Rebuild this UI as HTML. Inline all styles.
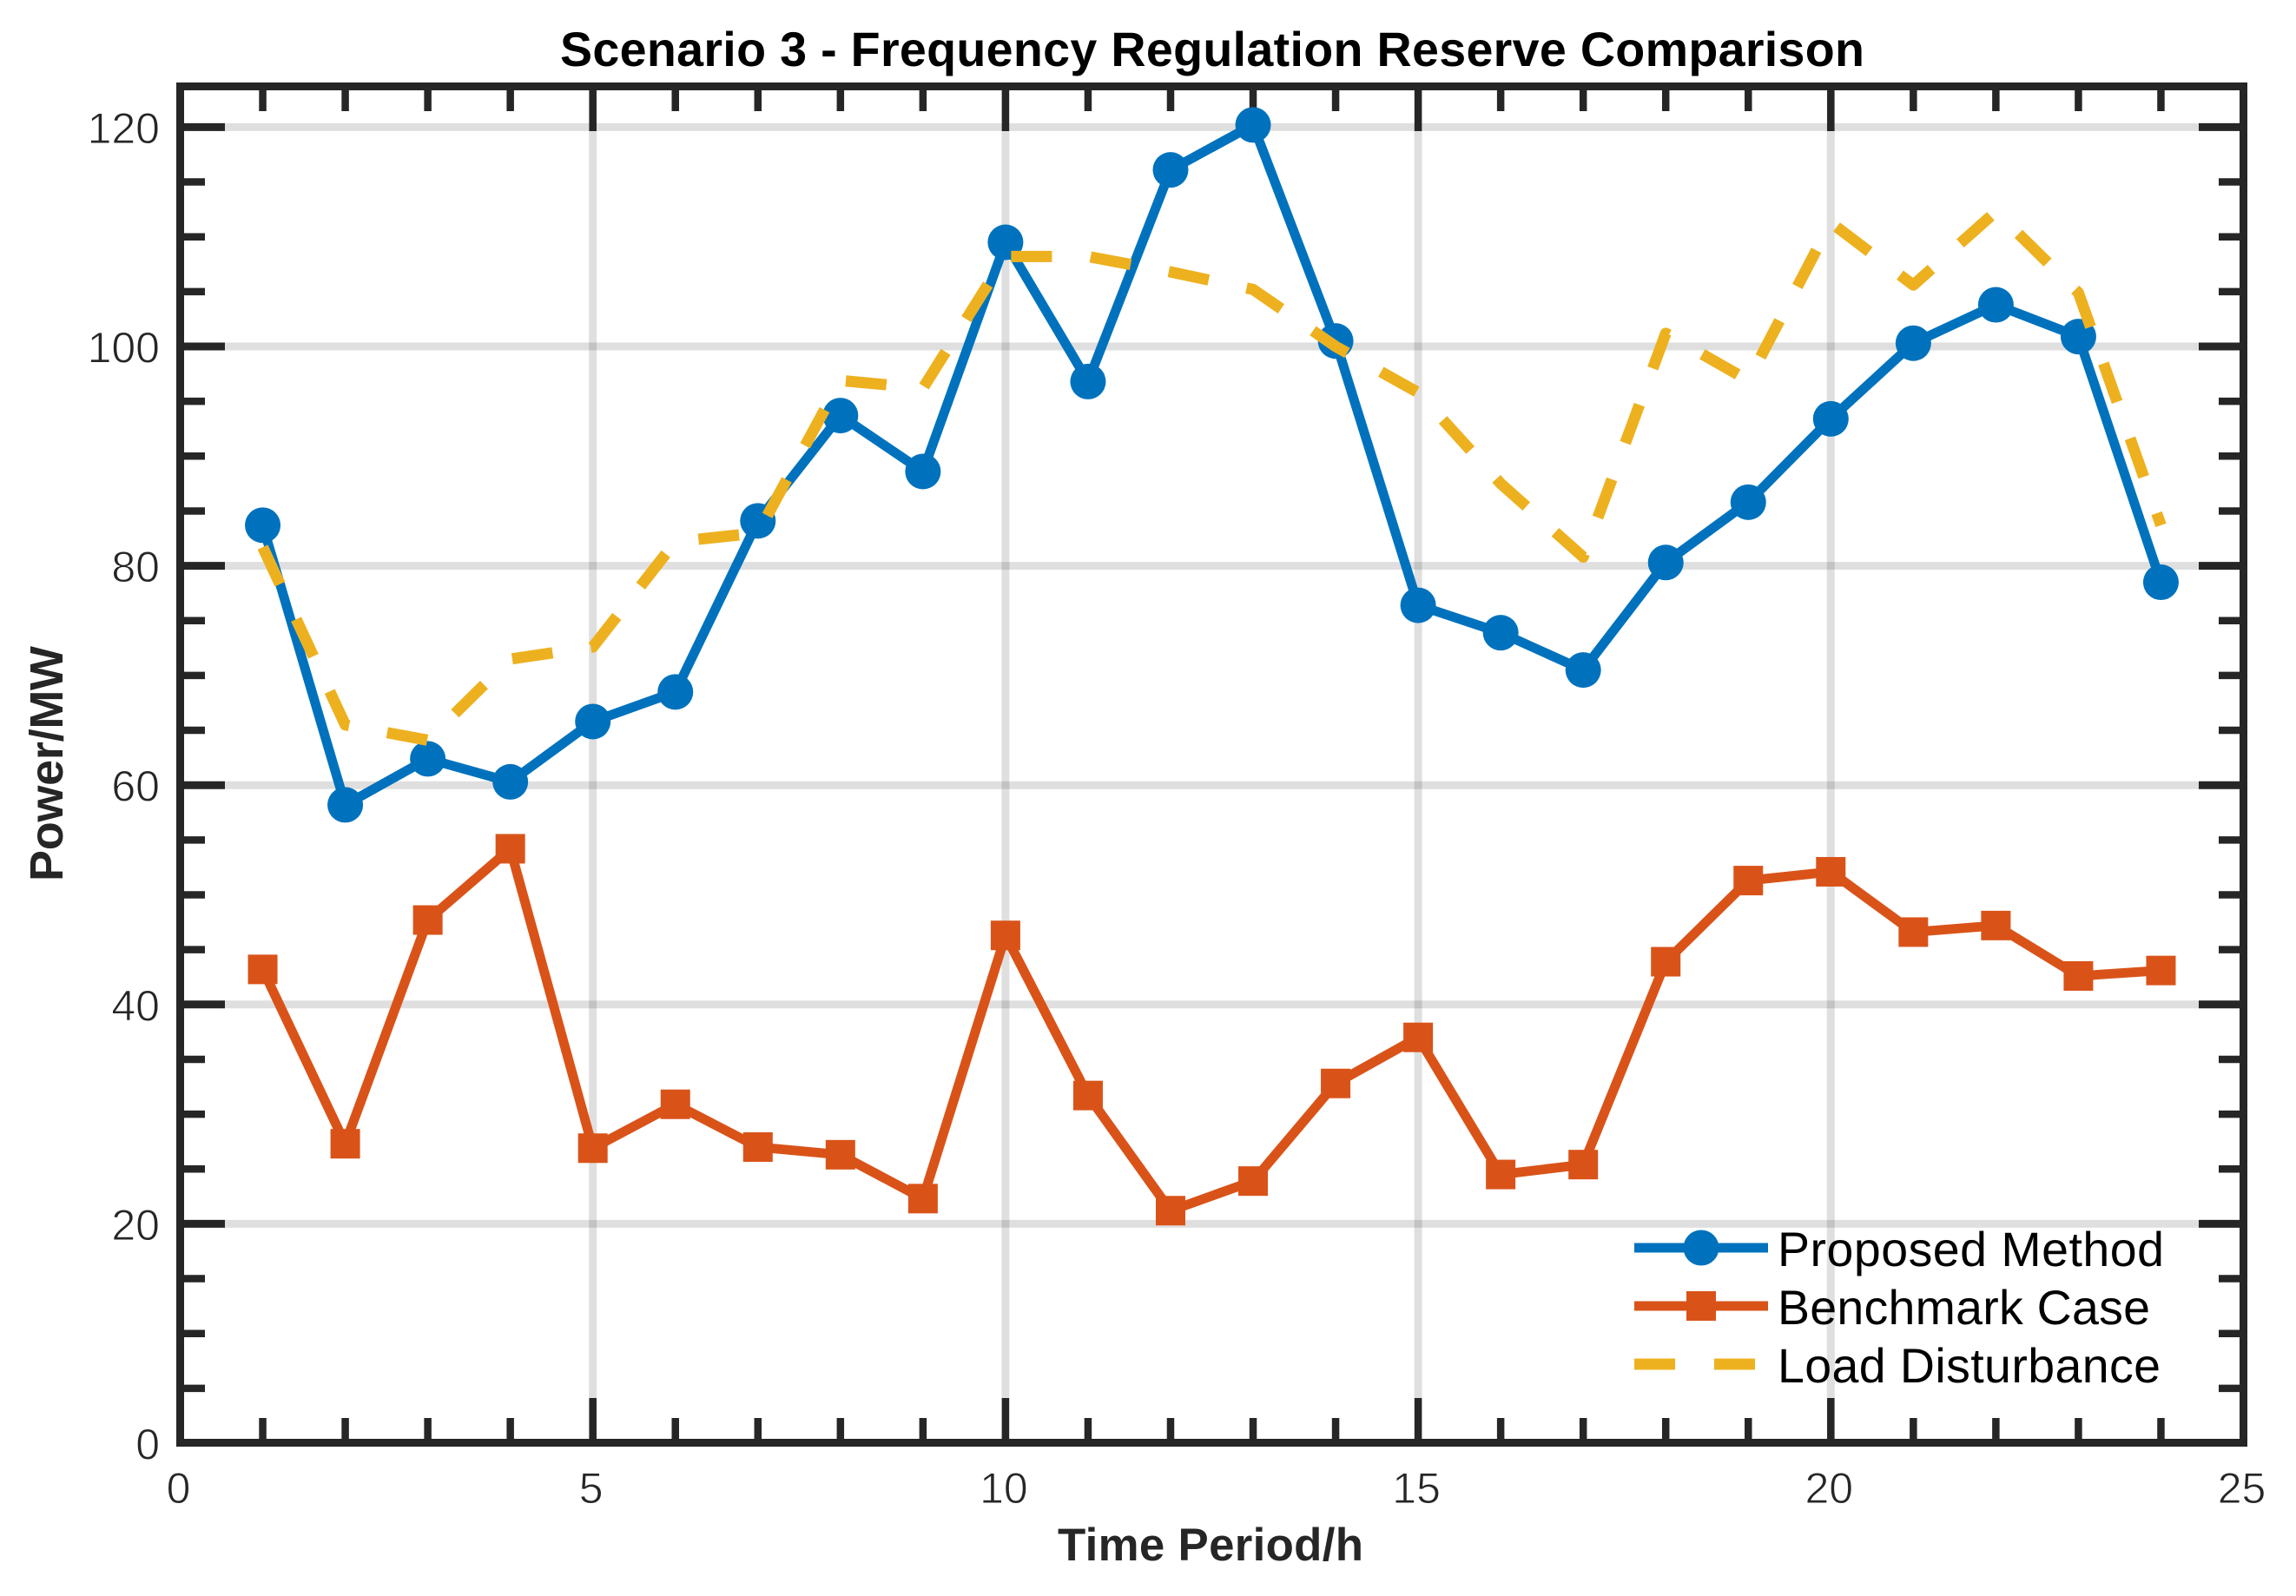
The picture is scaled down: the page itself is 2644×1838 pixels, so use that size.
<!DOCTYPE html>
<html lang="en">
<head>
<meta charset="utf-8">
<title>Scenario 3 - Frequency Regulation Reserve Comparison</title>
<style>
html,body{margin:0;padding:0;background:#fff;}
svg{display:block;}
text{font-family:"Liberation Sans",Arial,sans-serif;}
</style>
</head>
<body>
<svg id="chart" xmlns="http://www.w3.org/2000/svg" width="2644" height="1838" viewBox="0 0 2644 1838">
  <rect x="0" y="0" width="2644" height="1838" fill="#ffffff"/>
  <g id="grid"></g>
  <g id="ticks"></g>
  <rect x="207.5" y="99.5" width="2376" height="1562" fill="none" stroke="#262626" stroke-width="9"/>
  <g id="tick-labels"></g>
  <g id="series"></g>
  <text x="645" y="76" font-size="55.6" font-weight="700" fill="#000000" textLength="1502" lengthAdjust="spacing">Scenario 3 - Frequency Regulation Reserve Comparison</text>
  <text x="1218" y="1797" font-size="52.8" font-weight="700" fill="#262626" textLength="352" lengthAdjust="spacing">Time Period/h</text>
  <text transform="translate(72 1015) rotate(-90)" x="0" y="0" font-size="54" font-weight="700" fill="#262626" textLength="271" lengthAdjust="spacing">Power/MW</text>
  <g>
    <g>
      <line x1="1882" y1="1437" x2="2036" y2="1437" stroke="#0072BD" stroke-width="11"/>
      <circle cx="1959" cy="1437" r="20.5" fill="#0072BD"/>
      <text x="2047" y="1458" font-size="55.5" fill="#000000" textLength="445" lengthAdjust="spacing">Proposed Method</text>
    </g>
    <g>
      <line x1="1882" y1="1504" x2="2036" y2="1504" stroke="#D95319" stroke-width="11"/>
      <rect x="1942" y="1487" width="34" height="34" fill="#D95319"/>
      <text x="2047" y="1525" font-size="55.5" fill="#000000" textLength="429" lengthAdjust="spacing">Benchmark Case</text>
    </g>
    <g>
      <line x1="1882" y1="1571" x2="2036" y2="1571" stroke="#EDB120" stroke-width="13" stroke-dasharray="47 45"/>
      <text x="2047" y="1592" font-size="55.5" fill="#000000" textLength="441" lengthAdjust="spacing">Load Disturbance</text>
    </g>
  </g>
</svg>
<script>
const timePeriods = [1,2,3,4,5,6,7,8,9,10,11,12,13,14,15,16,17,18,19,20,21,22,23,24];
const proposedMethod = [83.7,58.2,62.4,60.3,65.8,68.5,84.1,93.7,88.6,109.5,96.8,116.1,120.2,100.5,76.4,73.9,70.5,80.3,85.8,93.4,100.3,103.8,100.9,78.5];
const benchmarkCase = [43.2,27.3,47.7,54.2,26.9,30.9,27.0,26.3,22.3,46.3,31.7,21.2,23.9,32.8,37.0,24.5,25.4,43.9,51.3,52.1,46.6,47.2,42.6,43.1];
const loadDisturbance = [81.7,65.5,64.1,71.5,72.6,82.2,83.0,96.9,96.2,108.2,108.2,106.8,105.2,100.0,95.8,87.5,80.8,101.2,96.9,111.3,105.6,112.3,104.9,83.7];
const xTickLabels = [0,5,10,15,20,25];
const yTickLabels = [0,20,40,60,80,100,120];
const xMinorTicks = [1,2,3,4,6,7,8,9,11,12,13,14,16,17,18,19,21,22,23,24];
const yMinorTicks = [5,10,15,25,30,35,45,50,55,65,70,75,85,90,95,105,110,115];

const NS = 'http://www.w3.org/2000/svg';
const plotLeft = 207.5, plotRight = 2583.5, plotTop = 99.5, plotBottom = 1661.5;
const xMax = 25, yPixelsPerUnit = 12.63;
const xScale = v => plotLeft + (plotRight - plotLeft) * v / xMax;
const yScale = v => 1662 - yPixelsPerUnit * v;

function make(tag, attrs, parent) {
  const el = document.createElementNS(NS, tag);
  for (const k in attrs) el.setAttribute(k, attrs[k]);
  parent.appendChild(el);
  return el;
}
const gridG = document.getElementById('grid');
const ticksG = document.getElementById('ticks');
const labelsG = document.getElementById('tick-labels');
const seriesG = document.getElementById('series');
const inkColor = '#262626';
const majorLen = 47, minorLen = 24;

xTickLabels.forEach(v => {
  const x = xScale(v);
  if (v > 0 && v < xMax) {
    const g = make('line', {x1:x, y1:plotTop, x2:x, y2:plotBottom, stroke:inkColor, 'stroke-opacity':0.15, 'stroke-width':9}, gridG);
    
    
    const b = make('line', {x1:x, y1:plotBottom, x2:x, y2:plotBottom - majorLen - 4.5, stroke:inkColor, 'stroke-width':8.5}, ticksG);
    
    
    const t = make('line', {x1:x, y1:plotTop, x2:x, y2:plotTop + majorLen + 4.5, stroke:inkColor, 'stroke-width':8.5}, ticksG);
    
    
  }
  const label = make('text', {x:x - 2, y:1731, 'font-size':50, 'text-anchor':'middle', fill:inkColor, stroke:'#ffffff', 'stroke-width':0.9}, labelsG);
  label.textContent = String(v);
  
  
});

xMinorTicks.forEach(v => {
  const x = xScale(v);
  const b = make('line', {x1:x, y1:plotBottom, x2:x, y2:plotBottom - minorLen - 4.5, stroke:inkColor, 'stroke-width':8.5}, ticksG);
  
  
  const t = make('line', {x1:x, y1:plotTop, x2:x, y2:plotTop + minorLen + 4.5, stroke:inkColor, 'stroke-width':8.5}, ticksG);
  
  
});

yTickLabels.forEach(v => {
  const y = yScale(v);
  if (v > 0) {
    const g = make('line', {x1:plotLeft, y1:y, x2:plotRight, y2:y, stroke:inkColor, 'stroke-opacity':0.15, 'stroke-width':9}, gridG);
    
    
    const l = make('line', {x1:plotLeft, y1:y, x2:plotLeft + majorLen + 4.5, y2:y, stroke:inkColor, 'stroke-width':9}, ticksG);
    
    
    const r = make('line', {x1:plotRight, y1:y, x2:plotRight - majorLen - 4.5, y2:y, stroke:inkColor, 'stroke-width':9}, ticksG);
    
    
  }
  const label = make('text', {x:184, y:y + 18.5, 'font-size':50, 'text-anchor':'end', fill:inkColor, stroke:'#ffffff', 'stroke-width':0.9}, labelsG);
  label.textContent = String(v);
  
  
});

yMinorTicks.forEach(v => {
  const y = yScale(v);
  const l = make('line', {x1:plotLeft, y1:y, x2:plotLeft + minorLen + 4.5, y2:y, stroke:inkColor, 'stroke-width':8.5}, ticksG);
  
  
  const r = make('line', {x1:plotRight, y1:y, x2:plotRight - minorLen - 4.5, y2:y, stroke:inkColor, 'stroke-width':8.5}, ticksG);
  
  
});

const pointsFor = values => values.map((v, i) => xScale(timePeriods[i]) + ',' + yScale(v)).join(' ');

const proposedLine = make('polyline', {points:pointsFor(proposedMethod), fill:'none', stroke:'#0072BD', 'stroke-width':11, 'stroke-linejoin':'round'}, seriesG);


proposedMethod.forEach((v, i) => {
  const c = make('circle', {cx:xScale(timePeriods[i]), cy:yScale(v), r:20.5, fill:'#0072BD'}, seriesG);
  
  
});

const benchmarkLine = make('polyline', {points:pointsFor(benchmarkCase), fill:'none', stroke:'#D95319', 'stroke-width':11, 'stroke-linejoin':'round'}, seriesG);


benchmarkCase.forEach((v, i) => {
  const s = make('rect', {x:xScale(timePeriods[i]) - 17, y:yScale(v) - 17, width:34, height:34, fill:'#D95319'}, seriesG);
  
  
});

const loadLine = make('polyline', {points:pointsFor(loadDisturbance), fill:'none', stroke:'#EDB120', 'stroke-width':13, 'stroke-linejoin':'round', 'stroke-dasharray':'47 44.55'}, seriesG);


</script>
</body>
</html>
